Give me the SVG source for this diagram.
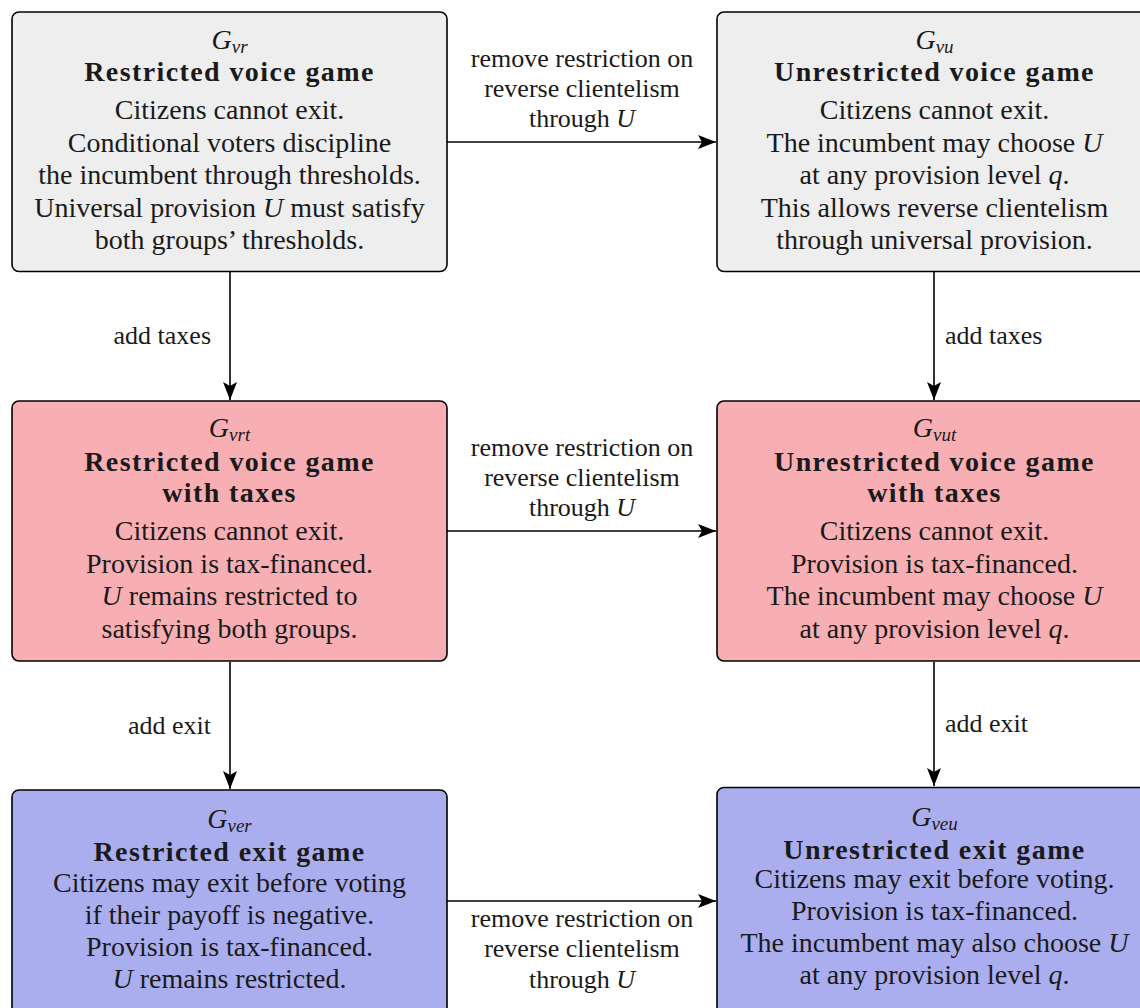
<svg xmlns="http://www.w3.org/2000/svg" width="1140" height="1008" viewBox="0 0 1140 1008" font-family="Liberation Serif">
<defs>
<style>
text{font-family:'Liberation Serif','Times New Roman',serif;fill:#1a1a1a;}
.box{stroke:#000;stroke-width:1.6;}
.gray{fill:#eeeeee;}
.pink{fill:#f7afb4;}
.blue{fill:#abaeee;}
.g{font-size:28px;font-style:italic;text-anchor:middle;}
.sub{font-size:19px;font-style:italic;}
.t{font-size:28px;font-weight:bold;text-anchor:middle;letter-spacing:1.4px;}
.b{font-size:28px;text-anchor:middle;}
.i{font-style:italic;}
.lab{font-size:26px;text-anchor:middle;}
.ls{font-size:26px;}
.edge{stroke:#000;stroke-width:1.6;fill:none;marker-end:url(#arr);}
</style>
<marker id="arr" markerWidth="19" markerHeight="14" refX="18" refY="7" orient="auto" markerUnits="userSpaceOnUse">
<path d="M0,0 L18,7 L0,14 L4,7 Z" fill="#000"/>
</marker>
</defs>
<rect width="1140" height="1008" fill="#fff"/>

<g id="connectors">
<line class="edge" x1="447" y1="142" x2="716" y2="142"/>
<line class="edge" x1="447" y1="531" x2="716" y2="531"/>
<line class="edge" x1="447" y1="901" x2="716" y2="901"/>
<line class="edge" x1="230" y1="272" x2="230" y2="400"/>
<line class="edge" x1="934" y1="272" x2="934" y2="400"/>
<line class="edge" x1="230" y1="662" x2="230" y2="789"/>
<line class="edge" x1="934" y1="662" x2="934" y2="786"/>
<text class="lab" x="582" y="67">remove restriction on</text>
<text class="lab" x="582" y="97">reverse clientelism</text>
<text class="lab" x="582" y="127">through <tspan class="i">U</tspan></text>
<text class="lab" x="582" y="456">remove restriction on</text>
<text class="lab" x="582" y="486">reverse clientelism</text>
<text class="lab" x="582" y="516">through <tspan class="i">U</tspan></text>
<text class="lab" x="582" y="927">remove restriction on</text>
<text class="lab" x="582" y="957">reverse clientelism</text>
<text class="lab" x="582" y="988">through <tspan class="i">U</tspan></text>
<text class="ls" x="211" y="344" text-anchor="end">add taxes</text>
<text class="ls" x="945" y="344">add taxes</text>
<text class="ls" x="211" y="734" text-anchor="end">add exit</text>
<text class="ls" x="945" y="732">add exit</text>
</g>

<g id="G_vr">
<rect class="box gray" x="12" y="12" width="435" height="259.5" rx="7"/>
<text class="g" x="229.5" y="49">G<tspan class="sub" dy="4">vr</tspan></text>
<text class="t" x="229.5" y="81">Restricted voice game</text>
<text class="b" x="229.5" y="119">Citizens cannot exit.</text>
<text class="b" x="229.5" y="151.5">Conditional voters discipline</text>
<text class="b" x="229.5" y="184">the incumbent through thresholds.</text>
<text class="b" x="229.5" y="216.5">Universal provision <tspan class="i">U</tspan> must satisfy</text>
<text class="b" x="229.5" y="249">both groups’ thresholds.</text>
</g>

<g id="G_vu">
<rect class="box gray" x="717" y="12" width="435" height="259.5" rx="7"/>
<text class="g" x="934.5" y="49">G<tspan class="sub" dy="4">vu</tspan></text>
<text class="t" x="934.5" y="81">Unrestricted voice game</text>
<text class="b" x="934.5" y="119">Citizens cannot exit.</text>
<text class="b" x="934.5" y="151.5">The incumbent may choose <tspan class="i">U</tspan></text>
<text class="b" x="934.5" y="184">at any provision level <tspan class="i">q</tspan>.</text>
<text class="b" x="934.5" y="216.5">This allows reverse clientelism</text>
<text class="b" x="934.5" y="249">through universal provision.</text>
</g>

<g id="G_vrt">
<rect class="box pink" x="12" y="401" width="435" height="260" rx="7"/>
<text class="g" x="229.5" y="437">G<tspan class="sub" dy="4">vrt</tspan></text>
<text class="t" x="229.5" y="471">Restricted voice game</text>
<text class="t" x="229.5" y="502">with taxes</text>
<text class="b" x="229.5" y="540">Citizens cannot exit.</text>
<text class="b" x="229.5" y="572.5">Provision is tax-financed.</text>
<text class="b" x="229.5" y="605"><tspan class="i">U</tspan> remains restricted to</text>
<text class="b" x="229.5" y="637.5">satisfying both groups.</text>
</g>

<g id="G_vut">
<rect class="box pink" x="717" y="401" width="435" height="260" rx="7"/>
<text class="g" x="934.5" y="437">G<tspan class="sub" dy="4">vut</tspan></text>
<text class="t" x="934.5" y="471">Unrestricted voice game</text>
<text class="t" x="934.5" y="502">with taxes</text>
<text class="b" x="934.5" y="540">Citizens cannot exit.</text>
<text class="b" x="934.5" y="572.5">Provision is tax-financed.</text>
<text class="b" x="934.5" y="605">The incumbent may choose <tspan class="i">U</tspan></text>
<text class="b" x="934.5" y="637.5">at any provision level <tspan class="i">q</tspan>.</text>
</g>

<g id="G_ver">
<rect class="box blue" x="12" y="790" width="435" height="260" rx="7"/>
<text class="g" x="229.5" y="828">G<tspan class="sub" dy="4">ver</tspan></text>
<text class="t" x="229.5" y="861">Restricted exit game</text>
<text class="b" x="229.5" y="892">Citizens may exit before voting</text>
<text class="b" x="229.5" y="924">if their payoff is negative.</text>
<text class="b" x="229.5" y="956">Provision is tax-financed.</text>
<text class="b" x="229.5" y="988"><tspan class="i">U</tspan> remains restricted.</text>
</g>

<g id="G_veu">
<rect class="box blue" x="717" y="787.5" width="435" height="260" rx="7"/>
<text class="g" x="934.5" y="826">G<tspan class="sub" dy="4">veu</tspan></text>
<text class="t" x="934.5" y="859">Unrestricted exit game</text>
<text class="b" x="934.5" y="888">Citizens may exit before voting.</text>
<text class="b" x="934.5" y="920">Provision is tax-financed.</text>
<text class="b" x="934.5" y="952">The incumbent may also choose <tspan class="i">U</tspan></text>
<text class="b" x="934.5" y="984">at any provision level <tspan class="i">q</tspan>.</text>
</g>
</svg>
